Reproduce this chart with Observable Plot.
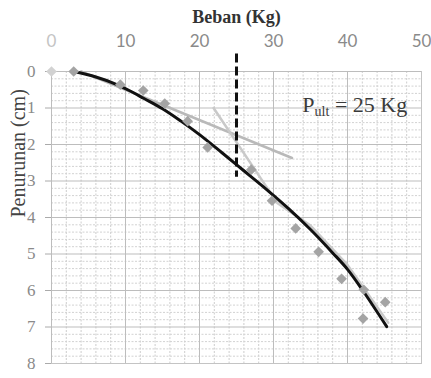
<!DOCTYPE html>
<html>
<head>
<meta charset="utf-8">
<script src="https://cdn.jsdelivr.net/npm/d3@7"></script>
<script src="https://cdn.jsdelivr.net/npm/@observablehq/plot@0.6"></script>
<style>
  html, body { margin: 0; padding: 0; background: #fff; }
  #chart { width: 431px; height: 378px; }
</style>
</head>
<body>
<div id="chart"></div>
<script>
// Uji beban: penurunan (cm) terhadap beban (Kg)
const loadKg       = [0, 3, 9.3, 12.4, 15.3, 18.4, 21.1, 27.0, 29.8, 33.0, 36.1, 39.2, 42.2, 45.1, 42.1];
const settlementCm = [0, 0, 0.36, 0.52, 0.88, 1.36, 2.08, 2.69, 3.54, 4.30, 4.94, 5.68, 5.98, 6.32, 6.77];

// Kurva beban-penurunan (garis hitam)
const curveLoad   = [3, 6, 8.5, 10.5, 12.5, 15, 17.5, 20, 23, 26, 29, 32, 35, 38, 40, 42, 45.3];
const curveSettle = [0, 0.15, 0.33, 0.52, 0.74, 1.02, 1.36, 1.73, 2.22, 2.72, 3.22, 3.75, 4.33, 4.97, 5.42, 5.98, 6.99];

// Garis singgung awal dan akhir
const tangentALoad   = [4, 32.5];
const tangentASettle = [0, 2.37];
const tangentBLoad   = [21.9, 30.5, 35, 40, 45.5];
const tangentBSettle = [1.0, 3.6, 4.22, 5.3, 6.88];

// Beban ultimit
const pUlt = 25;
const ultSpan = [-0.48, 2.9];

const xTicks = [0, 10, 20, 30, 40, 50];
const yTicks = [0, 1, 2, 3, 4, 5, 6, 7, 8];

const zip = (xs, ys) => xs.map((x, i) => ({x, y: ys[i]}));
const points = zip(loadKg, settlementCm);
const curve = zip(curveLoad, curveSettle);
const tanA = zip(tangentALoad, tangentASettle);
const tanB = zip(tangentBLoad, tangentBSettle);

const minorX = d3.range(0, 50.01, 2).filter(v => v % 10 !== 0);
const majorX = d3.range(0, 50.01, 10);
const minorY = d3.range(0, 8.001, 0.2).map(v => +v.toFixed(1)).filter(v => !Number.isInteger(v));
const majorY = d3.range(0, 8.001, 1);

const chart = Plot.plot({
  width: 431,
  height: 378,
  marginLeft: 51,
  marginRight: 10,
  marginTop: 71,
  marginBottom: 15,
  style: {fontFamily: "Liberation Serif", background: "#fff"},
  x: {domain: [0, 50]},
  y: {domain: [0, 8], reverse: true},
  marks: [
    // kertas grafik
    Plot.ruleX(minorX, {stroke: "#cdcdcd", strokeDasharray: "2,1.5"}),
    Plot.ruleY(minorY, {stroke: "#d2d2d2", strokeDasharray: "2,1.5"}),
    Plot.ruleX(majorX, {stroke: "#bdbdbd"}),
    Plot.ruleY(majorY, {stroke: "#bdbdbd"}),
    Plot.axisY(yTicks, {
      tickSize: 6, tickPadding: 10, stroke: "#aaa", fill: "#8a8a8a",
      fontSize: 17, fontFamily: "Liberation Serif", label: null
    }),
    Plot.axisX(xTicks.filter(d => d !== 0), {
      anchor: "top", tickSize: 0, tickPadding: 25, fill: "#8a8a8a",
      fontSize: 17, fontFamily: "Lato", label: null
    }),
    Plot.axisX(xTicks.filter(d => d === 0), {
      anchor: "top", tickSize: 0, tickPadding: 25, fill: "#c4c4c4",
      fontSize: 17, fontFamily: "Lato", label: null
    }),
    // garis singgung
    Plot.line(tanA, {x: "x", y: "y", stroke: "#b9b9b9", strokeWidth: 2.5}),
    Plot.line(tanB, {x: "x", y: "y", stroke: "#c9c9c9", strokeWidth: 2.5}),
    // kurva beban-penurunan
    Plot.line(curve, {x: "x", y: "y", curve: "catmull-rom", stroke: "#111", strokeWidth: 3}),
    // titik pengamatan
    Plot.dot(points.slice(0, 1), {x: "x", y: "y", symbol: "diamond2", r: 4.8, fill: "#d2d2d2", stroke: "none"}),
    Plot.dot(points.slice(1), {x: "x", y: "y", symbol: "diamond2", r: 4.8, fill: "#a4a4a4", stroke: "none"}),
    // beban ultimit
    Plot.ruleX([pUlt], {y1: ultSpan[0], y2: ultSpan[1], stroke: "#111", strokeWidth: 3, strokeDasharray: "9,4"}),
    Plot.text([`P = ${pUlt} Kg`], {
      x: 33.9, y: 1.12, textAnchor: "start", lineAnchor: "bottom",
      fontSize: 22, fill: "#3a3a3a", fontFamily: "Liberation Serif", className: "pult"
    }),
    // judul sumbu
    Plot.text(["Beban (Kg)"], {
      frameAnchor: "top", dy: -61, fontSize: 18, fontWeight: "bold", fill: "#333",
      fontFamily: "Liberation Serif"
    }),
    Plot.text(["Penurunan (cm)"], {
      frameAnchor: "left", dx: -33, rotate: -90, fontSize: 20, fill: "#444",
      fontFamily: "Liberation Serif"
    }),
    Plot.frame({stroke: "#c4c4c4", anchor: "right"}),
    Plot.frame({stroke: "#c4c4c4", anchor: "bottom"})
  ]
});

// subskrip "ult" pada label beban ultimit
d3.select(chart).selectAll("g.pult text").each(function() {
  const t = d3.select(this);
  t.text(null);
  t.append("tspan").text("P");
  t.append("tspan").attr("font-size", 14).attr("dy", 4).text("ult");
  t.append("tspan").attr("dy", -4).text(` = ${pUlt} Kg`);
});

document.getElementById("chart").appendChild(chart);
</script>
</body>
</html>
